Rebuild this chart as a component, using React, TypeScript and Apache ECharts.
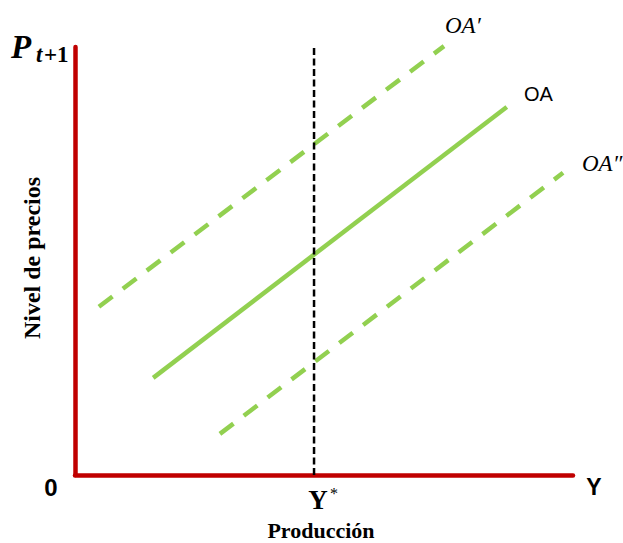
import React, { useEffect, useRef } from "react";
import * as echarts from "echarts";

// Curves (x: output, y: price level, both on a 0–100 scale)
const oaCurve: number[][] = [[15.7, 22.7], [86.7, 86.0]];
const oaPrimeCurve: number[][] = [[4.8, 39.3], [74.1, 100.2]];
const oaDoublePrimeCurve: number[][] = [[29.1, 9.6], [98.0, 70.6]];
const yStar = 48.0;
const yStarLine: number[][] = [[yStar, 0], [yStar, 100]];

const GREEN = "#92D050";
const RED = "#C00000";

export default function App() {
  const ref = useRef<HTMLDivElement>(null);
  useEffect(() => {
    if (!ref.current) return;
    const chart = echarts.init(ref.current, undefined, { renderer: "svg" });
    const serif = "Liberation Serif";
    const sans = "Liberation Sans";
    chart.setOption({
      animation: false,
      backgroundColor: "#ffffff",
      grid: { left: 75, top: 47, right: 50, bottom: 68 },
      xAxis: {
        type: "value", min: 0, max: 100,
        axisLine: { show: true, lineStyle: { color: RED, width: 4.5 } },
        axisTick: { show: false }, axisLabel: { show: false }, splitLine: { show: false },
      },
      yAxis: {
        type: "value", min: 0, max: 100,
        axisLine: { show: true, lineStyle: { color: RED, width: 4.5 } },
        axisTick: { show: false }, axisLabel: { show: false }, splitLine: { show: false },
      },
      series: [
        {
          name: "OA", type: "line", data: oaCurve, symbol: "none", clip: false,
          lineStyle: { color: GREEN, width: 4.5 },
        },
        {
          name: "OA′", type: "line", data: oaPrimeCurve, symbol: "none", clip: false,
          lineStyle: { color: GREEN, width: 4.5, type: [17, 13] },
        },
        {
          name: "OA″", type: "line", data: oaDoublePrimeCurve, symbol: "none", clip: false,
          lineStyle: { color: GREEN, width: 4.5, type: [17, 13] },
        },
        {
          name: "Y*", type: "line", data: yStarLine, symbol: "none", clip: false, z: 5,
          lineStyle: { color: "#000000", width: 2.5, type: [7, 3.5] },
        },
      ],
      graphic: [
        { type: "text", x: 11, y: 47, style: { text: "P", fontFamily: serif, fontStyle: "italic", fontWeight: "bold", fontSize: 33, fill: "#000", textAlign: "left", textVerticalAlign: "middle" } },
        { type: "text", x: 36, y: 54, style: { text: "t", fontFamily: serif, fontStyle: "italic", fontWeight: "bold", fontSize: 23, fill: "#000", textAlign: "left", textVerticalAlign: "middle" } },
        { type: "text", x: 44, y: 54, style: { text: "+1", fontFamily: serif, fontWeight: "bold", fontSize: 23, fill: "#000", textAlign: "left", textVerticalAlign: "middle" } },
        { type: "text", x: 32, y: 258, rotation: Math.PI / 2, style: { text: "Nivel de precios", fontFamily: serif, fontWeight: "bold", fontSize: 24, fill: "#000", textAlign: "center", textVerticalAlign: "middle" } },
        { type: "text", x: 445, y: 25, style: { text: "OA′", fontFamily: serif, fontStyle: "italic", fontSize: 23, fill: "#000", textAlign: "left", textVerticalAlign: "middle" } },
        { type: "text", x: 524, y: 94, style: { text: "OA", fontFamily: sans, fontSize: 20, fill: "#000", textAlign: "left", textVerticalAlign: "middle" } },
        { type: "text", x: 582, y: 163, style: { text: "OA″", fontFamily: serif, fontStyle: "italic", fontSize: 23, fill: "#000", textAlign: "left", textVerticalAlign: "middle" } },
        { type: "text", x: 51, y: 487, style: { text: "0", fontFamily: sans, fontWeight: "bold", fontSize: 24, fill: "#000", textAlign: "center", textVerticalAlign: "middle" } },
        { type: "text", x: 594, y: 487, style: { text: "Y", fontFamily: sans, fontWeight: "bold", fontSize: 23, fill: "#000", textAlign: "center", textVerticalAlign: "middle" } },
        { type: "text", x: 318, y: 500, style: { text: "Y", fontFamily: serif, fontWeight: "bold", fontSize: 27, fill: "#000", textAlign: "center", textVerticalAlign: "middle" } },
        { type: "text", x: 334, y: 493, style: { text: "*", fontFamily: serif, fontSize: 16, fill: "#000", textAlign: "center", textVerticalAlign: "middle" } },
        { type: "text", x: 321, y: 530, style: { text: "Producción", fontFamily: serif, fontWeight: "bold", fontSize: 22, fill: "#000", textAlign: "center", textVerticalAlign: "middle" } },
      ],
    });
    return () => chart.dispose();
  }, []);
  return <div ref={ref} style={{ width: 623, height: 543, position: "absolute", left: 0, top: 0 }} />;
}
